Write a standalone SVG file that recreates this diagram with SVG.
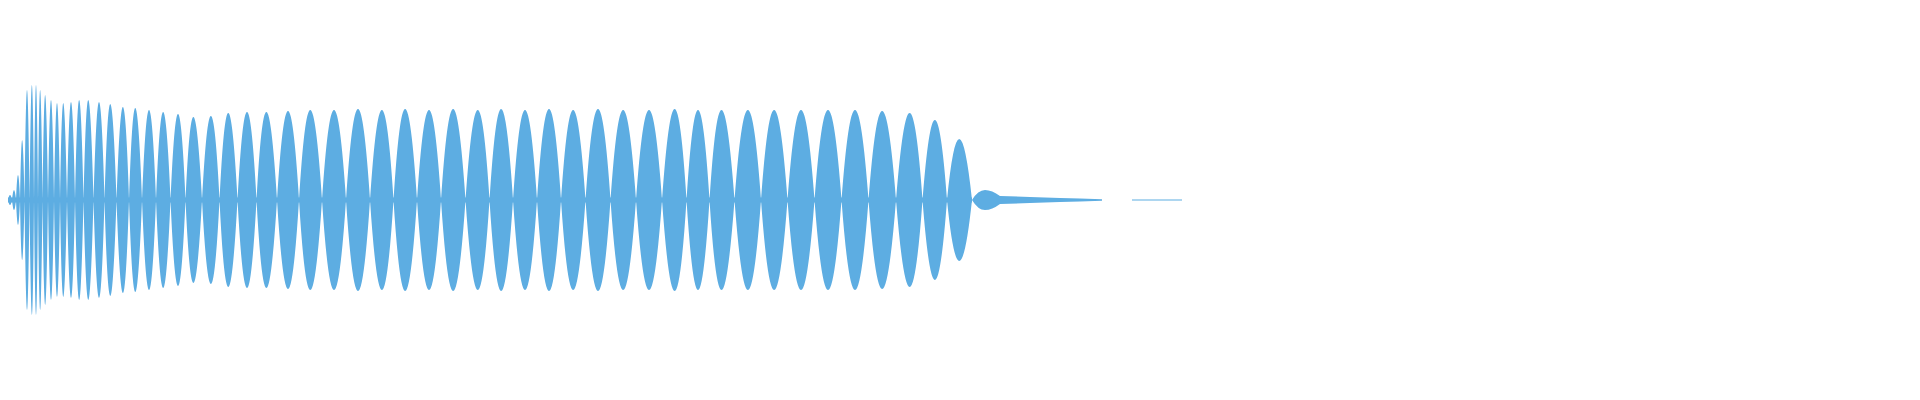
<svg xmlns="http://www.w3.org/2000/svg" width="1920" height="400" viewBox="0 0 1920 400">
<style>.w{fill:#5DADE2;stroke:none}.l{stroke:#5DADE2;stroke-width:1.2;fill:none}</style>
<rect width="1920" height="400" fill="#fff"/>
<g id="waveform">
<rect class="w" x="8" y="197.5" width="964" height="5"/>
<path class="w" d="
M8 200 Q10 190 12 200 Q10 210 8 200Z
M12 200 Q14 180 16 200 Q14 220 12 200Z
M16 200 Q18 150 20 200 Q18 250 16 200Z
M20 200 Q22 80 24.5 200 Q22 320 20 200Z
M24.5 200 Q27 -20 29.5 200 Q27 420 24.5 200Z
M29.5 200 Q32 -30 34 200 Q32 430 29.5 200Z
M34 200 Q36 -30 38 200 Q36 430 34 200Z
M38 200 Q40 -20 42.5 200 Q40 420 38 200Z
M42.5 200 Q45 -10 48 200 Q45 410 42.5 200Z
M48 200 Q51 0 54 200 Q51 400 48 200Z
M54 200 Q57 6 60 200 Q57 394 54 200Z
M60 200 Q63 6 67 200 Q63 394 60 200Z
M67 200 Q71 4 75 200 Q71 396 67 200Z
M75 200 Q79 0 83.5 200 Q79 400 75 200Z
M83.5 200 Q88 0 93.5 200 Q88 400 83.5 200Z
M93.5 200 Q99 4 104.5 200 Q99 396 93.5 200Z
M104.5 200 Q110 8 116.5 200 Q110 392 104.5 200Z
M116.5 200 Q123 14 129 200 Q123 386 116.5 200Z
M129 200 Q135 16 142 200 Q135 384 129 200Z
M142 200 Q149 20 156 200 Q149 380 142 200Z
M156 200 Q163 24 170.5 200 Q163 376 156 200Z
M170.5 200 Q178 28 185.5 200 Q178 372 170.5 200Z
M185.5 200 Q193 34 202 200 Q193 366 185.5 200Z
M202 200 Q211 32 219.5 200 Q211 368 202 200Z
M219.5 200 Q228 26 237.5 200 Q228 374 219.5 200Z
M237.5 200 Q247 24 256.5 200 Q247 376 237.5 200Z
M256.5 200 Q266 24 277 200 Q266 376 256.5 200Z
M277 200 Q288 22 299 200 Q288 378 277 200Z
M299 200 Q310 20 322 200 Q310 380 299 200Z
M322 200 Q334 20 346 200 Q334 380 322 200Z
M346 200 Q358 18 370 200 Q358 382 346 200Z
M370 200 Q382 20 393.5 200 Q382 380 370 200Z
M393.5 200 Q405 18 417 200 Q405 382 393.5 200Z
M417 200 Q429 20 441 200 Q429 380 417 200Z
M441 200 Q453 18 465.5 200 Q453 382 441 200Z
M465.5 200 Q478 20 489.5 200 Q478 380 465.5 200Z
M489.5 200 Q501 18 513 200 Q501 382 489.5 200Z
M513 200 Q525 20 537 200 Q525 380 513 200Z
M537 200 Q549 18 561 200 Q549 382 537 200Z
M561 200 Q573 20 585.5 200 Q573 380 561 200Z
M585.5 200 Q598 18 610.5 200 Q598 382 585.5 200Z
M610.5 200 Q623 20 636 200 Q623 380 610.5 200Z
M636 200 Q649 20 662 200 Q649 380 636 200Z
M662 200 Q675 18 686.5 200 Q675 382 662 200Z
M686.5 200 Q698 20 709.5 200 Q698 380 686.5 200Z
M709.5 200 Q721 20 734.5 200 Q721 380 709.5 200Z
M734.5 200 Q748 20 761 200 Q748 380 734.5 200Z
M761 200 Q774 20 787.5 200 Q774 380 761 200Z
M787.5 200 Q801 20 814.5 200 Q801 380 787.5 200Z
M814.5 200 Q828 20 841.5 200 Q828 380 814.5 200Z
M841.5 200 Q855 20 868.5 200 Q855 380 841.5 200Z
M868.5 200 Q882 22 896 200 Q882 378 868.5 200Z
M896 200 Q910 26 922.5 200 Q910 374 896 200Z
M922.5 200 Q935 40 947 200 Q935 360 922.5 200Z
M947 200 Q959 78 972 200 Q959 322 947 200Z
M972 200 Q978 190 985 190 Q992 190 1000 196 L1030 197 L1060 198 L1080 198.6 L1102 199.2 L1102 200.8 L1080 201.4 L1060 202 L1030 203 L1000 204 Q992 210 985 210 Q978 210 972 200Z"/>
<line class="l" x1="1132" y1="200" x2="1182" y2="200"/>
</g>
</svg>
